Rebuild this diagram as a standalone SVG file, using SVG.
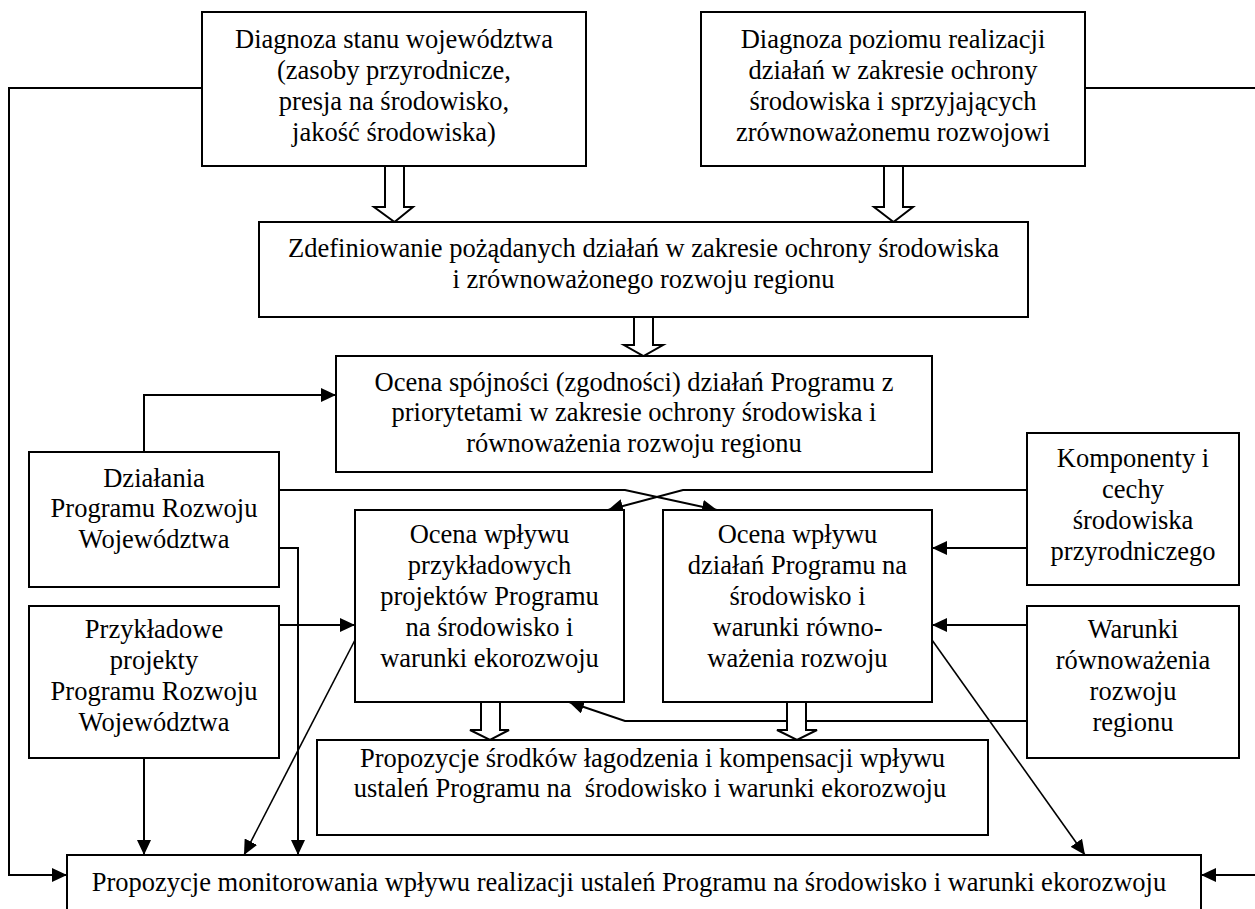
<svg xmlns="http://www.w3.org/2000/svg" width="1255" height="909" viewBox="0 0 1255 909">
<style>
.box{fill:#fff;stroke:#000;stroke-width:2}
.t{font-family:"Liberation Serif","Times New Roman",serif;font-size:26.5px;fill:#000;text-anchor:middle}
.c{fill:none;stroke:#000;stroke-width:2}
.d{fill:none;stroke:#000;stroke-width:1.6}
.ba{fill:#fff;stroke:#000;stroke-width:2;stroke-linejoin:miter}
</style>
<defs>
<marker id="ah" markerUnits="userSpaceOnUse" markerWidth="15" markerHeight="14" refX="15" refY="7" orient="auto">
<path d="M0,0 L15,7 L0,14 z" fill="#000"/>
</marker>
</defs>
<rect width="1255" height="909" fill="#fff"/>

<g id="connectors">
<path class="c" d="M202,88 H9 V875 H67" marker-end="url(#ah)"/>
<path class="c" d="M1085,88 H1255"/>
<path class="c" d="M1255,875 H1201" marker-end="url(#ah)"/>
<path class="c" d="M144,452 V395 H336" marker-end="url(#ah)"/>
<path class="c" d="M279,490 H625 L717,510" marker-end="url(#ah)"/>
<path class="c" d="M1027,490 H683 L608,510" marker-end="url(#ah)"/>
<path class="c" d="M279,548 H298 V855" marker-end="url(#ah)"/>
<path class="c" d="M279,625 H355" marker-end="url(#ah)"/>
<path class="c" d="M144,758 V855" marker-end="url(#ah)"/>
<path class="d" d="M355,640 L244,855" marker-end="url(#ah)"/>
<path class="d" d="M932,640 L1085,855" marker-end="url(#ah)"/>
<path class="c" d="M1027,548 H932" marker-end="url(#ah)"/>
<path class="c" d="M1027,625 H932" marker-end="url(#ah)"/>
<path class="c" d="M1027,721 H625 L569,702" marker-end="url(#ah)"/>
<polygon class="ba" points="385,166 404,166 404,207 413,207 394.5,222 374,207 385,207"/>
<polygon class="ba" points="884,166 903,166 903,207 913,207 893.5,222 874,207 884,207"/>
<polygon class="ba" points="634,317 653,317 653,345 663,345 643.5,356 624,345 634,345"/>
<polygon class="ba" points="481,702 500,702 500,730 509,730 490,740 470,730 481,730"/>
<polygon class="ba" points="787,702 806,702 806,730 817,730 797,740 777,730 787,730"/>
</g>

<g id="diagnoza-stanu">
<rect class="box" x="202" y="12" width="384" height="154"/>
<text class="t" x="394"><tspan x="394" y="48">Diagnoza stanu województwa</tspan><tspan x="394" y="79">(zasoby przyrodnicze,</tspan><tspan x="394" y="110">presja na środowisko,</tspan><tspan x="394" y="141">jakość środowiska)</tspan></text>
</g>

<g id="diagnoza-poziomu">
<rect class="box" x="701" y="12" width="384" height="154"/>
<text class="t" x="893"><tspan x="893" y="48">Diagnoza poziomu realizacji</tspan><tspan x="893" y="79">działań w zakresie ochrony</tspan><tspan x="893" y="110">środowiska i sprzyjających</tspan><tspan x="893" y="141">zrównoważonemu rozwojowi</tspan></text>
</g>

<g id="zdefiniowanie">
<rect class="box" x="259" y="222" width="769" height="95"/>
<text class="t" x="643.5"><tspan x="643.5" y="257">Zdefiniowanie pożądanych działań w zakresie ochrony środowiska</tspan><tspan x="643.5" y="288">i zrównoważonego rozwoju regionu</tspan></text>
</g>

<g id="ocena-spojnosci">
<rect class="box" x="336" y="356" width="596" height="116"/>
<text class="t" x="634"><tspan x="634" y="391">Ocena spójności (zgodności) działań Programu z</tspan><tspan x="634" y="421">priorytetami w zakresie ochrony środowiska i</tspan><tspan x="634" y="452">równoważenia rozwoju regionu</tspan></text>
</g>

<g id="dzialania">
<rect class="box" x="29" y="452" width="250" height="135"/>
<text class="t" x="154"><tspan x="154" y="487">Działania</tspan><tspan x="154" y="517">Programu Rozwoju</tspan><tspan x="154" y="548">Województwa</tspan></text>
</g>

<g id="przykladowe">
<rect class="box" x="29" y="606" width="250" height="152"/>
<text class="t" x="154"><tspan x="154" y="638">Przykładowe</tspan><tspan x="154" y="669">projekty</tspan><tspan x="154" y="700">Programu Rozwoju</tspan><tspan x="154" y="731">Województwa</tspan></text>
</g>

<g id="ocena-projektow">
<rect class="box" x="355" y="510" width="269" height="192"/>
<text class="t" x="489.5"><tspan x="489.5" y="543">Ocena wpływu</tspan><tspan x="489.5" y="574">przykładowych</tspan><tspan x="489.5" y="605">projektów Programu</tspan><tspan x="489.5" y="636">na środowisko i</tspan><tspan x="489.5" y="667">warunki ekorozwoju</tspan></text>
</g>

<g id="ocena-dzialan">
<rect class="box" x="663" y="510" width="269" height="192"/>
<text class="t" x="797.5"><tspan x="797.5" y="543">Ocena wpływu</tspan><tspan x="797.5" y="574">działań Programu na</tspan><tspan x="797.5" y="605">środowisko i</tspan><tspan x="797.5" y="636">warunki równo-</tspan><tspan x="797.5" y="667">ważenia rozwoju</tspan></text>
</g>

<g id="komponenty">
<rect class="box" x="1027" y="433" width="212" height="152"/>
<text class="t" x="1133"><tspan x="1133" y="467">Komponenty i</tspan><tspan x="1133" y="498">cechy</tspan><tspan x="1133" y="529">środowiska</tspan><tspan x="1133" y="560">przyrodniczego</tspan></text>
</g>

<g id="warunki">
<rect class="box" x="1027" y="606" width="212" height="152"/>
<text class="t" x="1133"><tspan x="1133" y="638">Warunki</tspan><tspan x="1133" y="669">równoważenia</tspan><tspan x="1133" y="700">rozwoju</tspan><tspan x="1133" y="731">regionu</tspan></text>
</g>

<g id="propozycje-srodkow">
<rect class="box" x="317" y="740" width="671" height="95"/>
<text class="t" x="652.5" xml:space="preserve"><tspan x="652.5" y="767">Propozycje środków łagodzenia i kompensacji wpływu</tspan><tspan x="650" y="797">ustaleń Programu na  środowisko i warunki ekorozwoju</tspan></text>
</g>

<g id="propozycje-monitorowania">
<rect class="box" x="67" y="855" width="1134" height="80"/>
<text class="t" x="629" y="891">Propozycje monitorowania wpływu realizacji ustaleń Programu na środowisko i warunki ekorozwoju</text>
</g>
</svg>
